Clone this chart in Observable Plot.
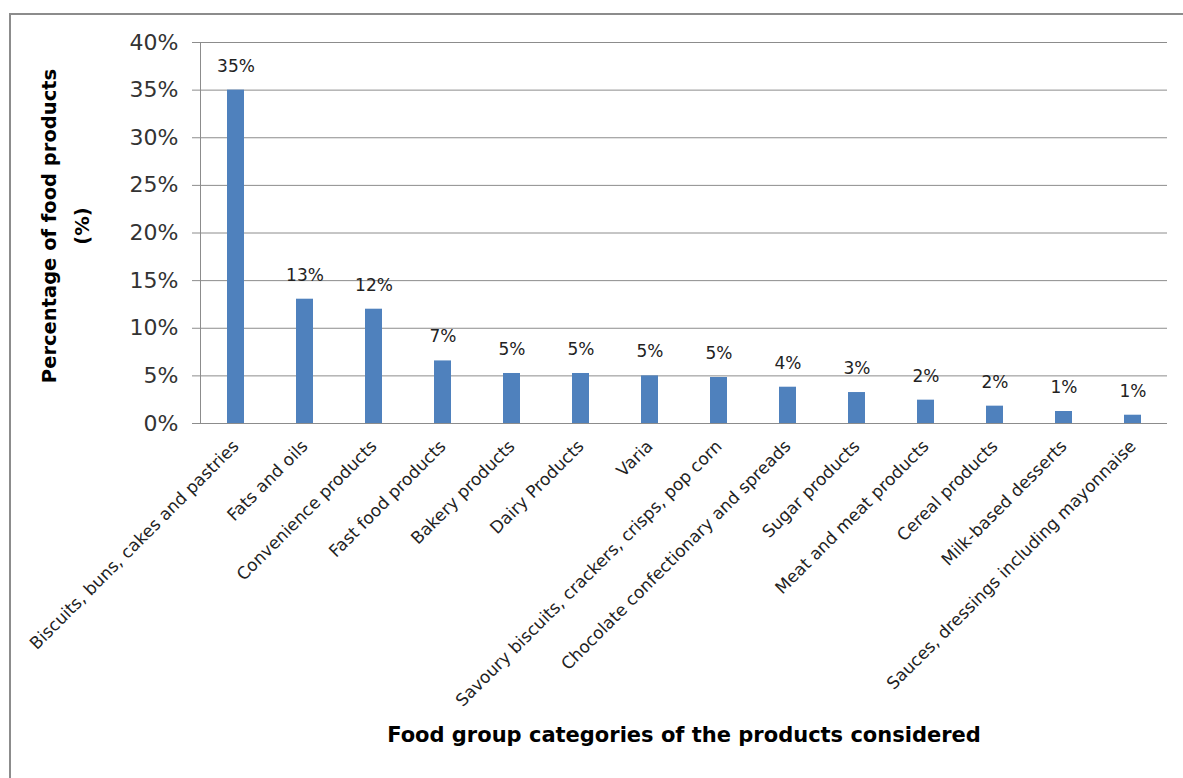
<!DOCTYPE html>
<html>
<head>
<meta charset="utf-8">
<script src="https://cdn.jsdelivr.net/npm/d3@7"></script>
<script src="https://cdn.jsdelivr.net/npm/@observablehq/plot@0.6"></script>
<style>
  html, body { margin: 0; padding: 0; background: #fff; }
  #wrap { position: relative; width: 1183px; height: 778px; overflow: hidden; }
  #border { position: absolute; left: 9px; top: 13px; width: 1200px; height: 800px; border: 2px solid #8c8c8c; box-sizing: border-box; pointer-events: none; }
  #chart { position: absolute; left: 0; top: 0; }
</style>
</head>
<body>
<div id="wrap"><div id="chart"></div><div id="border"></div></div>
<script>
const categories = [
  "Biscuits, buns, cakes and pastries",
  "Fats and oils",
  "Convenience products",
  "Fast food products",
  "Bakery products",
  "Dairy Products",
  "Varia",
  "Savoury biscuits, crackers, crisps, pop corn",
  "Chocolate confectionary and spreads",
  "Sugar products",
  "Meat and meat products",
  "Cereal products",
  "Milk-based desserts",
  "Sauces, dressings including mayonnaise"
];
const values = [35.0, 13.05, 12.0, 6.57, 5.25, 5.25, 5.0, 4.83, 3.81, 3.25, 2.45, 1.82, 1.26, 0.87];
const valueLabels = ["35%", "13%", "12%", "7%", "5%", "5%", "5%", "5%", "4%", "3%", "2%", "2%", "1%", "1%"];
const yTicks = [0, 5, 10, 15, 20, 25, 30, 35, 40];
const xTitle = "Food group categories of the products considered";
const yTitle = "Percentage of food products\n(%)";

const data = categories.map((c, i) => ({category: c, value: values[i], label: valueLabels[i]}));

const chart = Plot.plot({
  width: 1183,
  height: 778,
  marginLeft: 200,
  marginRight: 16,
  marginTop: 42,
  marginBottom: 355,
  style: {fontFamily: "DejaVu Sans", background: "transparent"},
  x: {domain: categories, paddingInner: 0.76, paddingOuter: 0.38, label: null},
  y: {domain: [0, 40], label: null},
  marks: [
    Plot.ruleY(yTicks, {stroke: "#8c8c8c", strokeWidth: 1}),
    Plot.frame({anchor: "left", stroke: "#8c8c8c"}),
    Plot.axisY({ticks: yTicks, tickFormat: d => d + "%", tickSize: 8, tickPadding: 14, fontSize: 22, fill: "#333", stroke: "#8c8c8c", label: null}),
    Plot.axisX({tickRotate: -45, tickSize: 0, tickPadding: 20, fontSize: 17, fill: "#222", label: null}),
    Plot.barY(data, {x: "category", y: "value", fill: "#4f81bd"}),
    Plot.text(data, {x: "category", y: "value", text: "label", dy: -24, fontSize: 17, fill: "#222"}),
    Plot.text([xTitle], {frameAnchor: "bottom", text: d => d, dy: 318, fontSize: 21, fontWeight: "bold", fill: "#000"}),
    Plot.text([yTitle], {frameAnchor: "left", text: d => d, rotate: -90, textAnchor: "middle", dx: -139, dy: -7, lineHeight: 1.7, fontSize: 19.5, fontWeight: "bold", fill: "#000"})
  ]
});
document.getElementById("chart").appendChild(chart);
</script>
</body>
</html>
